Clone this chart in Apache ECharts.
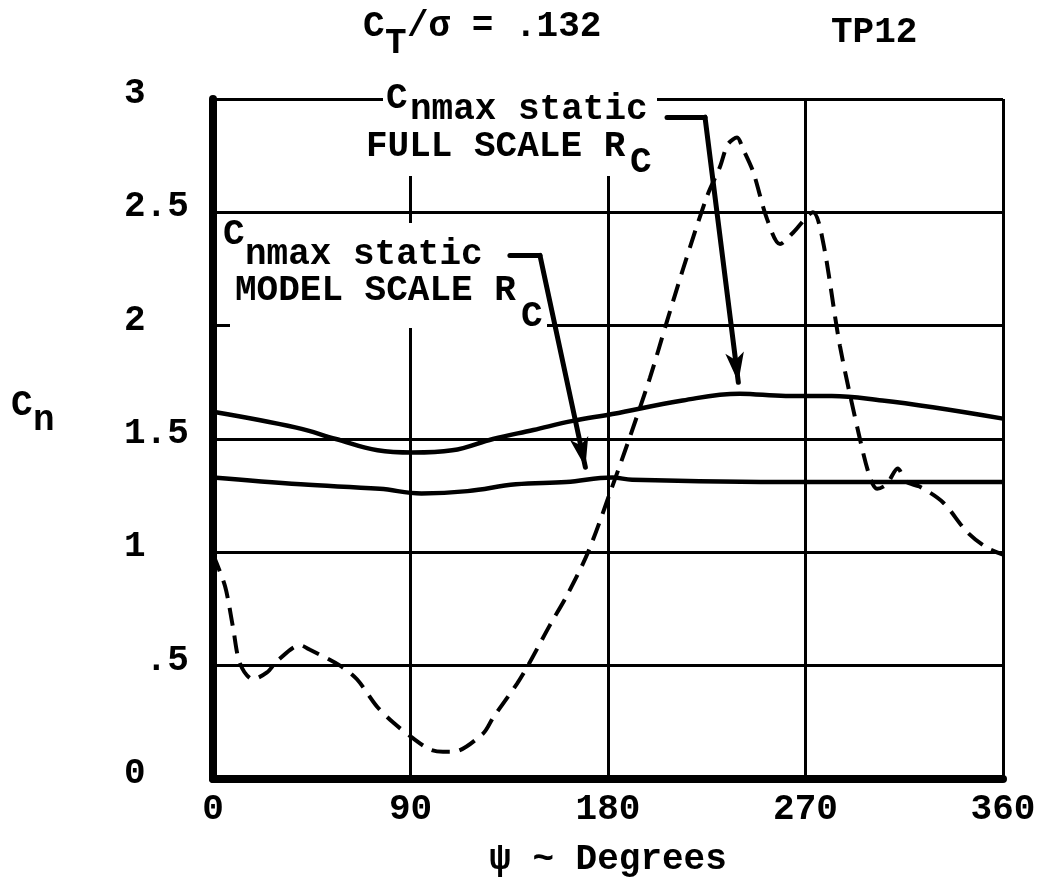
<!DOCTYPE html>
<html><head><meta charset="utf-8">
<script src="https://cdn.jsdelivr.net/npm/echarts@6/dist/echarts.min.js"></script>
<style>html,body{margin:0;padding:0;background:#fff}#c{width:1044px;height:884px}</style>
</head><body><div id="c"></div>
<script>
// ---- data ----
const psiTicks = [0, 90, 180, 270, 360];
const cnTickLabels = ['0', ' .5', '1', '1.5', '2', '2.5', '3'];

// dynamic Cn (dashed)
const dynPsi = [0, 5.5, 9.1, 12.3, 18.2, 24.6, 29.2, 39.6, 44.2, 57.9, 65.6, 74.7, 82.0, 91.1, 98.9, 104.8, 109.4, 123.0, 127.6, 138.5, 143.5, 153.6, 161.3, 170.9, 182.3, 190.0, 199.1, 206.9, 214.2, 225.1, 231.0, 234.6, 238.8, 241.5, 246.1, 252.5, 258.4, 264.3, 273.4, 278.0, 285.7, 294.8, 299.4, 302.6, 307, 312, 316, 322, 332.7, 343.6, 352.7, 360];
const dynCn  = [0.99, 0.85, 0.67, 0.51, 0.44, 0.47, 0.52, 0.59, 0.57, 0.50, 0.44, 0.32, 0.25, 0.18, 0.13, 0.12, 0.12, 0.20, 0.27, 0.42, 0.50, 0.68, 0.81, 1.00, 1.30, 1.51, 1.77, 2.02, 2.25, 2.57, 2.70, 2.80, 2.83, 2.78, 2.68, 2.47, 2.36, 2.41, 2.50, 2.37, 1.91, 1.50, 1.33, 1.28, 1.30, 1.37, 1.31, 1.29, 1.22, 1.09, 1.02, 0.99];

// Cn max static, full scale Rc
const fullPsi = [0, 38, 56, 75, 91, 109, 127.6, 146, 164, 182, 214, 240, 261, 282, 305, 328, 360];
const fullCn  = [1.62, 1.55, 1.50, 1.45, 1.44, 1.45, 1.50, 1.54, 1.58, 1.61, 1.67, 1.70, 1.69, 1.69, 1.67, 1.64, 1.59];

// Cn max static, model scale Rc
const modelPsi = [0, 40, 76, 95, 116, 138, 161, 182, 191, 267, 360];
const modelCn  = [1.33, 1.30, 1.28, 1.26, 1.27, 1.30, 1.31, 1.33, 1.32, 1.31, 1.31];

// leader arrows (psi, Cn)
const fullArrow  = [[206.9, 2.92], [224.2, 2.92], [239.4, 1.75]];
const modelArrow = [[135.3, 2.31], [149.0, 2.31], [169.7, 1.375]];

const zip = (a, b) => a.map((v, i) => [v, b[i]]);

// ---- chart ----
const FONT = '"Liberation Mono", "DejaVu Sans Mono", monospace';
const chart = echarts.init(document.getElementById('c'), null, {renderer: 'canvas'});

function txt(x, y, s, fs) {
  return {type: 'text', x: x, y: y, z: 5,
    style: {text: s, fill: '#000', font: 'bold ' + fs + 'px ' + FONT,
      textAlign: 'left', textVerticalAlign: 'middle', align: 'left', verticalAlign: 'middle'}};
}

function arrowLines(a) {
  return [
    [{coord: a[0]}, {coord: a[1]}],
    [{coord: a[1]}, {coord: a[2], symbol: 'arrow', symbolSize: [14, 30]}]
  ];
}

chart.setOption({
  animation: false,
  backgroundColor: '#fff',
  grid: {left: 213, right: 41, top: 99, bottom: 105, containLabel: false},
  xAxis: {
    type: 'value', min: 0, max: 360, interval: 90,
    axisLine: {show: true, onZero: false, lineStyle: {color: '#000', width: 8}},
    axisTick: {show: false},
    splitLine: {show: true, lineStyle: {color: '#000', width: 3}},
    axisLabel: {margin: 13, color: '#000', fontFamily: FONT, fontWeight: 'bold', fontSize: 36,
      formatter: v => String(psiTicks[Math.round(v / 90)])},
    name: 'ψ ~ Degrees', nameLocation: 'middle', nameGap: 63,
    nameTextStyle: {color: '#000', fontFamily: FONT, fontWeight: 'bold', fontSize: 36}
  },
  yAxis: {
    type: 'value', min: 0, max: 3, interval: 0.5,
    axisLine: {show: true, onZero: false, lineStyle: {color: '#000', width: 8}},
    axisTick: {show: false},
    splitLine: {show: true, lineStyle: {color: '#000', width: 3}},
    axisLabel: {margin: 89, align: 'left', verticalAlign: 'bottom', lineHeight: 10,
      color: '#000', fontFamily: FONT, fontWeight: 'bold', fontSize: 36,
      formatter: v => cnTickLabels[Math.round(v / 0.5)]}
  },
  graphic: [
    {type: 'rect', z: 1, shape: {x: 383, y: 85, width: 274, height: 91}, style: {fill: '#fff'}},
    {type: 'rect', z: 1, shape: {x: 230, y: 223, width: 317, height: 105}, style: {fill: '#fff'}},
    // title
    txt(363, 27, 'C', 36), txt(385, 44, 'T', 36), txt(407, 27, '/σ = .132', 36),
    txt(831, 33, 'TP12', 36),
    // y axis name
    txt(11, 406, 'C', 36), txt(33, 421, 'n', 36),
    // full-scale label
    txt(386, 99, 'C', 36), txt(410, 110, 'nmax static', 36),
    txt(366, 147, 'FULL SCALE R', 36), txt(630, 163, 'C', 36),
    // model-scale label
    txt(223, 235, 'C', 36), txt(245, 255, 'nmax static', 36),
    txt(235, 291, 'MODEL SCALE R', 36), txt(521, 317, 'C', 36)
  ],
  series: [
    {
      type: 'line', data: zip(dynPsi, dynCn), symbol: 'none', smooth: 0.3,
      lineStyle: {color: '#000', width: 4, type: [18, 10]},
      markLine: {
        silent: true, symbol: ['none', 'none'], label: {show: false},
        lineStyle: {color: '#000', width: 5, type: 'solid', cap: 'round'},
        itemStyle: {color: '#000'},
        emphasis: {disabled: true},
        data: arrowLines(fullArrow).concat(arrowLines(modelArrow))
      }
    },
    {type: 'line', data: zip(fullPsi, fullCn), symbol: 'none', smooth: 0.4,
      lineStyle: {color: '#000', width: 4.5}},
    {type: 'line', data: zip(modelPsi, modelCn), symbol: 'none', smooth: 0.4,
      lineStyle: {color: '#000', width: 4.5}}
  ]
});
</script></body></html>
